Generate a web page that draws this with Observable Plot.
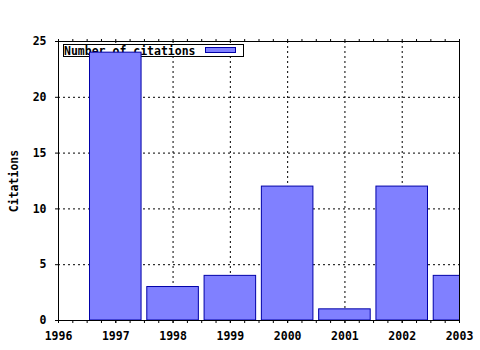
<!DOCTYPE html>
<html>
<head>
<meta charset="utf-8">
<script src="https://cdn.jsdelivr.net/npm/d3@7"></script>
<script src="https://cdn.jsdelivr.net/npm/@observablehq/plot@0.6"></script>
<style>
  html, body { margin: 0; padding: 0; background: #fff; }
  svg { display: block; }
</style>
</head>
<body>
<div id="chart"></div>
<script>
const years = [1997, 1998, 1999, 2000, 2001, 2002, 2003];
const citations = [24, 3, 4, 12, 1, 12, 4];
const xTicks = [1996, 1997, 1998, 1999, 2000, 2001, 2002, 2003];
const yTicks = [0, 5, 10, 15, 20, 25];
const seriesName = "Number of citations";
const yLabel = "Citations";

const data = years.map((y, i) => ({year: y, value: citations[i]}));
const minorTicks = d3.range(1996, 2003.001, 0.25);

const FONT = "DejaVu Sans Mono";
const FS = 11.5;
const fill = "#8080ff";
const stroke = "#0000a8";

const ML = 58, MR = 21, MT = 41, MB = 30;

const chart = Plot.plot({
  width: 480,
  height: 350,
  marginLeft: ML,
  marginRight: MR,
  marginTop: MT,
  marginBottom: MB,
  style: {fontFamily: FONT, fontWeight: "bold", fontSize: FS + "px", background: "white", color: "black"},
  x: {domain: [1996, 2003], axis: null},
  y: {domain: [0, 25], axis: null},
  marks: [
    Plot.ruleX(xTicks.slice(1, -1), {stroke: "black", strokeDasharray: "2,3", strokeWidth: 1}),
    Plot.ruleY(yTicks.slice(1, -1), {stroke: "black", strokeDasharray: "2,3", strokeWidth: 1}),
    Plot.rectY(data, {x1: d => d.year - 0.45, x2: d => d.year + 0.45, y: "value", fill, stroke, strokeWidth: 1, clip: true}),
    Plot.frame({stroke: "black", strokeWidth: 1}),
    Plot.axisX({ticks: minorTicks, tickSize: 3, text: null, label: null}),
    Plot.axisX({anchor: "top", ticks: minorTicks, tickSize: 3, text: null, label: null}),
    Plot.axisX({ticks: xTicks, tickSize: 3, tickPadding: 8, tickFormat: "d", label: null}),
    Plot.axisY({ticks: yTicks, tickSize: 3, tickPadding: 9, tickFormat: "d", label: null}),
    Plot.text([yLabel], {frameAnchor: "left", dx: -44, rotate: -90, textAnchor: "middle", fontWeight: "bold", fontSize: FS})
  ]
});

// Legend drawn underneath the bars (as in the reference)
const svg = d3.select(chart);
const barsGroup = chart.querySelector('g[aria-label="rect"]');
const g = d3.create("svg:g").attr("aria-label", "legend");
g.append("rect").attr("x", 63.5).attr("y", 44.5).attr("width", 180).attr("height", 12)
  .attr("fill", "white").attr("stroke", "black");
g.append("text").attr("x", 64).attr("y", 54.5).text(seriesName)
  .attr("text-anchor", "start")
  .attr("font-family", FONT).attr("font-weight", "bold").attr("font-size", FS).attr("fill", "black");
g.append("rect").attr("x", 205.5).attr("y", 47.5).attr("width", 30).attr("height", 5)
  .attr("fill", fill).attr("stroke", stroke);
chart.insertBefore(g.node(), barsGroup);

document.getElementById("chart").appendChild(chart);
</script>
</body>
</html>
